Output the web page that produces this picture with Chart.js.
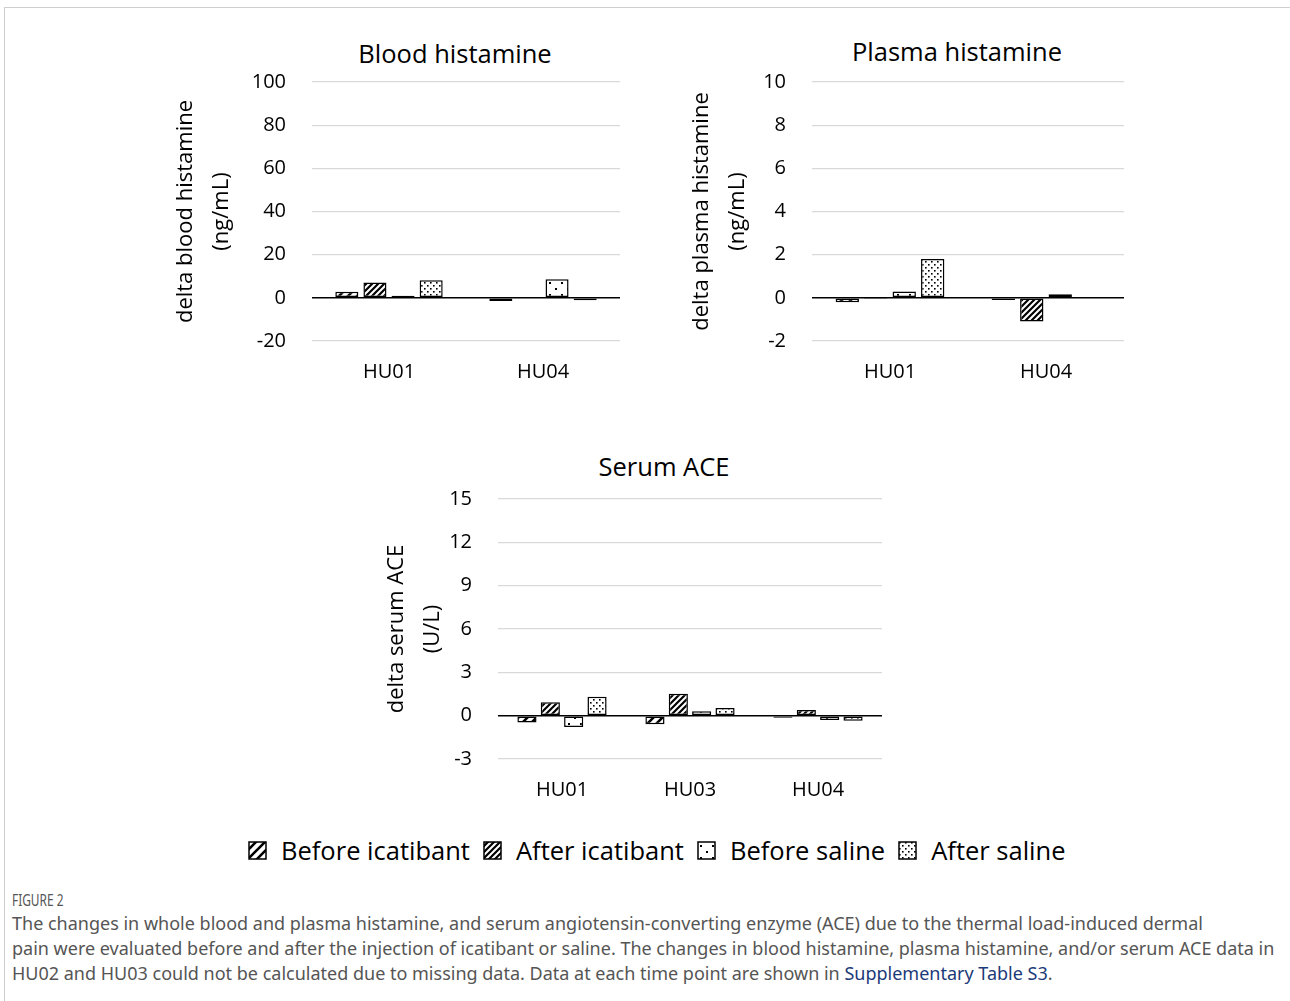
<!DOCTYPE html>
<html>
<head>
<meta charset="utf-8">
<script src="https://cdn.jsdelivr.net/npm/chart.js@4"></script>
<style>
  html, body { margin: 0; padding: 0; background: #fff; }
  body { width: 1290px; height: 1001px; position: relative; overflow: hidden; font-family: "Open Sans", "Noto Sans", sans-serif; }
  .frame { position: absolute; left: 4px; top: 7px; right: 0; bottom: 0; border-top: 1px solid #cfcfcf; border-left: 1px solid #cfcfcf; }
  .box { position: absolute; }
  .title { position: absolute; font-size: 25.5px; color: #000; transform: translate(-50%, -50%); white-space: nowrap; }
  .legend { position: absolute; top: 850px; left: 248px; transform: translateY(-50%); display: flex; align-items: center; font-size: 25.5px; white-space: nowrap; color: #000; }
  .legend canvas { margin: 0 14px 0 0; }
  .legend span { margin-right: 13px; }
  .cap-head { position: absolute; left: 12px; top: 888px; font-family: "Noto Sans", sans-serif; font-size: 17px; color: #555; transform: scaleX(0.7); transform-origin: left top; }
  .caption { position: absolute; left: 12px; top: 911px; font-family: "Noto Sans", sans-serif; font-size: 18px; line-height: 25px; color: #555; white-space: nowrap; }
  .caption a { color: #1b3a78; text-decoration: none; }
</style>
</head>
<body>
<div class="frame"></div>

<div class="title" style="left:455px;top:53px">Blood histamine</div>
<div class="title" style="left:957px;top:51px">Plasma histamine</div>
<div class="title" style="left:664px;top:466px">Serum ACE</div>

<div class="box" style="left:168px;top:44px;width:462px;height:347px"><canvas id="bloodChart"></canvas></div>
<div class="box" style="left:684px;top:44px;width:450px;height:347px"><canvas id="plasmaChart"></canvas></div>
<div class="box" style="left:379px;top:461px;width:513px;height:348px"><canvas id="serumChart"></canvas></div>

<div class="legend" id="legend"></div>

<div class="cap-head">FIGURE 2</div>
<div class="caption">
The changes in whole blood and plasma histamine, and serum angiotensin-converting enzyme (ACE) due to the thermal load-induced dermal<br>
pain were evaluated before and after the injection of icatibant or saline. The changes in blood histamine, plasma histamine, and/or serum ACE data in<br>
HU02 and HU03 could not be calculated due to missing data. Data at each time point are shown in <a>Supplementary Table S3</a>.
</div>

<script>
// series names
const seriesNames = ['Before icatibant', 'After icatibant', 'Before saline', 'After saline'];

// Blood histamine (ng/mL)
const bloodLabels = ['HU01', 'HU04'];
const bloodBeforeIcatibant = [2.8, -1.5];
const bloodAfterIcatibant = [7.1, 0.4];
const bloodBeforeSaline = [1.0, 8.6];
const bloodAfterSaline = [8.2, -1.1];
const bloodTicks = [-20, 0, 20, 40, 60, 80, 100];

// Plasma histamine (ng/mL)
const plasmaLabels = ['HU01', 'HU04'];
const plasmaBeforeIcatibant = [-0.2, -0.1];
const plasmaAfterIcatibant = [-0.05, -1.1];
const plasmaBeforeSaline = [0.29, 0.17];
const plasmaAfterSaline = [1.8, -0.03];
const plasmaTicks = [-2, 0, 2, 4, 6, 8, 10];

// Serum ACE (U/L)
const serumLabels = ['HU01', 'HU03', 'HU04'];
const serumBeforeIcatibant = [-0.48, -0.6, -0.15];
const serumAfterIcatibant = [0.93, 1.52, 0.4];
const serumBeforeSaline = [-0.78, 0.3, -0.3];
const serumAfterSaline = [1.31, 0.53, -0.35];
const serumTicks = [-3, 0, 3, 6, 9, 12, 15];

const FONT = '"Open Sans", "Noto Sans", sans-serif';

function makePattern(kind) {
  const c = document.createElement('canvas');
  const ctx = c.getContext('2d');
  if (kind === 0) { // wide sparse diagonal
    c.width = 9; c.height = 9;
    ctx.fillStyle = '#fff'; ctx.fillRect(0, 0, 9, 9);
    ctx.strokeStyle = '#000'; ctx.lineWidth = 2.6;
    ctx.beginPath();
    ctx.moveTo(-2, 11); ctx.lineTo(11, -2);
    ctx.moveTo(-5, 5); ctx.lineTo(5, -5);
    ctx.moveTo(4, 14); ctx.lineTo(14, 4);
    ctx.stroke();
  } else if (kind === 1) { // dense diagonal
    c.width = 6; c.height = 6;
    ctx.fillStyle = '#fff'; ctx.fillRect(0, 0, 6, 6);
    ctx.strokeStyle = '#000'; ctx.lineWidth = 2.2;
    ctx.beginPath();
    ctx.moveTo(-1, 7); ctx.lineTo(7, -1);
    ctx.moveTo(-4, 4); ctx.lineTo(4, -4);
    ctx.moveTo(2, 10); ctx.lineTo(10, 2);
    ctx.stroke();
  } else if (kind === 2) { // sparse dots
    c.width = 12; c.height = 12;
    ctx.fillStyle = '#fff'; ctx.fillRect(0, 0, 12, 12);
    ctx.fillStyle = '#000';
    ctx.fillRect(3, 4, 2, 2);
    ctx.fillRect(9, 10, 2, 2);
  } else { // dense dots
    c.width = 6; c.height = 6;
    ctx.fillStyle = '#fff'; ctx.fillRect(0, 0, 6, 6);
    ctx.fillStyle = '#000';
    ctx.fillRect(1, 1, 1.6, 1.6);
    ctx.fillRect(4, 4, 1.6, 1.6);
  }
  return c;
}

const patternCanvases = [0, 1, 2, 3].map(makePattern);
const patterns = patternCanvases.map(pc => pc.getContext('2d').createPattern(pc, 'repeat'));

function datasetsFrom(arrays) {
  return arrays.map((arr, i) => ({
    label: seriesNames[i],
    data: arr,
    backgroundColor: patterns[i],
    borderColor: '#000',
    borderWidth: 1.5,
    borderSkipped: false,
    categoryPercentage: 0.73,
    barPercentage: 0.82,
  }));
}

function makeChart(id, labels, arrays, ticks, yTitle, yWidth) {
  const min = ticks[0], max = ticks[ticks.length - 1];
  const step = ticks[1] - ticks[0];
  return new Chart(document.getElementById(id), {
    type: 'bar',
    data: { labels, datasets: datasetsFrom(arrays) },
    options: {
      responsive: true,
      maintainAspectRatio: false,
      animation: false,
      layout: { padding: { top: 5, right: 10, left: 0, bottom: 0 } },
      plugins: { legend: { display: false }, tooltip: { enabled: false } },
      scales: {
        x: {
          grid: { display: false },
          border: { display: false },
          ticks: { color: '#000', font: { family: FONT, size: 20 }, padding: 11 },
          afterFit: s => { s.height = 50; }
        },
        y: {
          min, max,
          afterBuildTicks: s => { s.ticks = ticks.map(v => ({ value: v })); },
          border: { display: false },
          grid: {
            drawTicks: false,
            color: c => c.tick && c.tick.value === 0 ? '#000' : '#d9d9d9',
            lineWidth: c => c.tick && c.tick.value === 0 ? 1.5 : 1.2,
          },
          ticks: { color: '#000', font: { family: FONT, size: 20 }, padding: 26, stepSize: step },
          title: {
            display: true,
            text: yTitle,
            color: '#000',
            font: { family: FONT, size: 22, lineHeight: 1.64 },
            padding: 0
          },
          afterFit: s => { s.width = yWidth; }
        }
      }
    }
  });
}

makeChart('bloodChart', bloodLabels,
  [bloodBeforeIcatibant, bloodAfterIcatibant, bloodBeforeSaline, bloodAfterSaline],
  bloodTicks, ['delta blood histamine', '(ng/mL)'], 144);

makeChart('plasmaChart', plasmaLabels,
  [plasmaBeforeIcatibant, plasmaAfterIcatibant, plasmaBeforeSaline, plasmaAfterSaline],
  plasmaTicks, ['delta plasma histamine', '(ng/mL)'], 128);

makeChart('serumChart', serumLabels,
  [serumBeforeIcatibant, serumAfterIcatibant, serumBeforeSaline, serumAfterSaline],
  serumTicks, ['delta serum ACE', '(U/L)'], 119);

// shared legend
const legend = document.getElementById('legend');
seriesNames.forEach((name, i) => {
  const c = document.createElement('canvas');
  c.width = 19; c.height = 19;
  const ctx = c.getContext('2d');
  ctx.fillStyle = ctx.createPattern(patternCanvases[i], 'repeat');
  ctx.fillRect(1, 1, 17, 17);
  ctx.strokeStyle = '#000';
  ctx.lineWidth = 1.5;
  ctx.strokeRect(1, 1, 17, 17);
  legend.appendChild(c);
  const s = document.createElement('span');
  s.textContent = name;
  legend.appendChild(s);
});
</script>
</body>
</html>
